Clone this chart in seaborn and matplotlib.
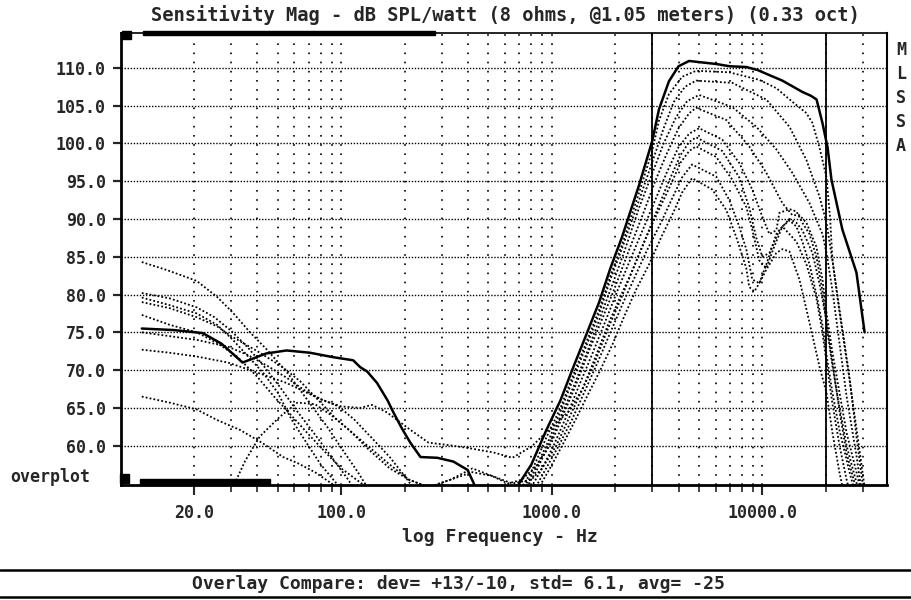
import numpy as np
import pandas as pd
import matplotlib
matplotlib.use("Agg")
import matplotlib.pyplot as plt
from matplotlib.patches import Rectangle
from matplotlib.lines import Line2D
from matplotlib.ticker import FixedLocator, NullFormatter
import seaborn as sns

# main (on-axis) response, solid
solid_f = [11.3, 16, 22, 27, 34, 44, 55, 71, 92, 114, 123, 133, 148, 166, 177, 195, 213, 238, 286, 341,
           398, 425, 460, 550, 650, 700, 800, 940, 1100, 1250, 1450, 1680, 1900, 2150, 2600, 3000, 3230,
           3600, 4000, 4490, 5200, 6040, 7000, 8400, 9500, 10450, 12450, 14000, 15500, 17000, 18100,
           19300, 20400, 21300, 24000, 28000, 30600]
solid_db = [75.5, 75.3, 74.9, 73.5, 71.0, 72.2, 72.6, 72.3, 71.7, 71.3, 70.4, 69.8, 68.3, 66.0, 64.4, 62.2,
            60.4, 58.5, 58.4, 57.9, 56.8, 55.1, 52.5, 50.5, 52.5, 55.0, 57.5, 62.0, 66.0, 70.0, 74.5, 79.0,
            83.5, 87.5, 94.5, 100.3, 104.5, 108.2, 110.2, 110.9, 110.7, 110.5, 110.2, 110.1, 109.7, 109.2,
            108.3, 107.5, 106.8, 106.3, 105.8, 102.7, 99.5, 95.2, 88.6, 82.9, 75.0]

# off-axis overlays, dotted
d1_f = [11.3, 15, 20.6, 25.7, 30.6, 36.9, 44.4, 55.3, 68.9, 85.8, 99, 120, 140, 180, 300, 500, 620,
        700, 800, 940, 1100, 1250, 1450, 1680, 1900, 2150, 2600, 3000, 3230, 3600, 4160, 4850,
        6970, 9680, 11660, 13890, 16200, 17300, 18670, 20180, 21000, 21540, 23270, 25960, 28060, 29950, 31500]
d1_db = [84.3, 83.2, 81.8, 79.7, 77.6, 75.0, 72.7, 69.7, 66.1, 62.5, 59.9, 56.5, 53.5, 50, 47, 48, 51,
         54, 56.5, 61, 65, 69, 73.5, 78, 82.5, 86.5, 93.5, 99, 103, 106.5, 108.8, 109.6,
         109.4, 108.4, 107.3, 105.5, 104.0, 102.7, 99.5, 95.5, 90, 84.5, 77.6, 68.7, 62.1, 56.4, 52]

d2_f = [11.3, 15.3, 20.6, 25, 30, 36, 43, 52, 62, 75, 90, 108, 130, 200, 400, 600,
        720, 820, 960, 1100, 1250, 1450, 1680, 1900, 2150, 2600, 3000, 3400, 3800, 4300, 4850,
        7200, 10450, 13450, 16200, 18670, 20180, 21540, 23270, 25960, 28060, 29950, 31500]
d2_db = [80.2, 79.5, 78.3, 77.0, 75.2, 73.0, 70.5, 67.5, 64.5, 61.5, 58.5, 55.5, 52, 48, 47, 50,
         54, 56.5, 60.5, 64.5, 68.5, 73, 77.5, 82, 86, 92.5, 97.5, 102, 105.5, 107.5, 108.3,
         108.0, 105.8, 102.2, 97.8, 93.0, 89.5, 84.5, 78, 69, 61, 55, 51]

d3_f = [11.3, 15.3, 20.6, 25.7, 30.6, 37, 43, 50, 58, 68, 80, 95, 115, 200, 400, 620,
        740, 840, 980, 1150, 1300, 1500, 1700, 1950, 2200, 2600, 3000, 3400, 3900, 4400, 5010,
        7200, 9360, 11660, 13890, 16750, 19300, 20180, 21540, 23270, 25140, 28060, 29950]
d3_db = [79.6, 78.6, 77.5, 76.0, 74.0, 71.5, 69.5, 67.0, 63.5, 60.5, 57.5, 55.0, 52, 48, 47, 50,
         54, 56.5, 60.5, 65, 68.5, 73, 77, 81.5, 85.5, 91.5, 96, 100, 103.5, 105.6, 106.4,
         104.8, 102.2, 99.2, 96.1, 92.1, 88.0, 85.5, 80.5, 73.5, 66.5, 58.5, 53]

d4_f = [11.3, 15.3, 20.6, 25.7, 30, 40, 52, 64, 78, 95, 115, 140, 170, 210, 260, 330, 420, 520, 620,
        720, 860, 1000, 1150, 1300, 1500, 1750, 2000, 2300, 2700, 3100, 3500, 4000, 4500, 4850,
        6740, 8670, 10450, 12450, 13890, 15000, 16200, 18070, 19300, 20180, 21540, 23270, 25140, 28060, 29950]
d4_db = [79.0, 78.2, 77.0, 75.8, 74.5, 72.5, 70.5, 68.5, 66.0, 63.5, 61.5, 59.5, 57.5, 55.5, 54.5, 55.5,
         57.0, 56.0, 55.0, 55.5, 57.5, 60.5, 64.5, 68, 72.5, 77, 81, 85.5, 90.5, 95, 98.5, 102, 104, 104.7,
         103.1, 99.6, 96.1, 92.1, 90.5, 90.5, 89.5, 86.3, 82.0, 77.6, 72.3, 67.0, 61.7, 56.4, 53]

d5_f = [11.3, 15.3, 20.6, 25.7, 32, 40, 48, 58, 70, 85, 100, 125, 150, 250, 450, 650,
        780, 900, 1020, 1200, 1350, 1550, 1800, 2050, 2350, 2700, 3100, 3500, 4000, 4500, 5010,
        6450, 7770, 8960, 10000, 10800, 11660, 12050, 13450, 14510, 15500, 16750, 18070, 19300,
        20180, 21540, 23270, 25140, 28060, 29950]
d5_db = [77.3, 76.0, 75.0, 73.6, 71.8, 69.1, 66.5, 64.0, 61.5, 59.0, 57.0, 55.0, 53, 49, 48, 51,
         54, 57, 60, 64.5, 68, 72, 76.5, 80.5, 84.5, 88.5, 92.5, 96, 99.5, 101.3, 102.0,
         100.5, 97.4, 93.9, 90.3, 88.0, 88.5, 90.8, 91.3, 91.0, 89.5, 88.0, 85.0, 80.5,
         76.0, 70.5, 65.0, 60.0, 55.0, 52]

d6_f = [11.3, 20.6, 29, 36, 45, 55, 68, 82, 100, 123, 140, 165, 213, 260, 320, 400, 530, 650, 803, 967,
        1200, 1400, 1600, 1850, 2100, 2400, 2800, 3200, 3600, 4100, 4500, 4850,
        6040, 7200, 8390, 8960, 9680, 10450, 11270, 12450, 13450, 14510, 15500, 16750, 18070, 19300,
        20180, 21540, 23270, 25960, 28060]
d6_db = [75.0, 74.0, 73.1, 72.0, 70.5, 69.0, 67.2, 66.0, 65.2, 65.0, 65.4, 64.4, 62.1, 60.4, 60.1, 59.7,
         59.1, 58.4, 59.9, 62.1,
         64.5, 67.5, 71.5, 76, 79.5, 83, 87.5, 91, 94, 97.5, 99, 99.6,
         98.2, 95.2, 91.6, 88.6, 84.5, 83.5, 86.0, 89.0, 89.8, 89.0, 87.0, 84.0, 80.0, 76.0,
         72.0, 67.0, 62.0, 56.5, 53]

d7_f = [11.3, 15.3, 20.6, 29, 37, 55, 75, 97, 115, 140, 170, 200, 240, 350, 600,
        820, 940, 1080, 1250, 1450, 1650, 1900, 2150, 2450, 2850, 3300, 3700, 4160, 4640,
        6040, 6970, 7770, 8390, 8960, 9680, 10450, 11660, 12450, 13450, 15000, 16750, 18670,
        20180, 21540, 23270, 25140]
d7_db = [72.7, 72.3, 71.8, 71.0, 70.0, 68.3, 66.5, 65.2, 63.5, 61, 58.5, 56, 53, 49, 50,
         54, 57, 60, 63.5, 67.5, 71, 75, 78.5, 82, 86, 89.5, 92.5, 95.5, 97.2,
         95.6, 92.5, 89.0, 86.0, 82.0, 81.5, 83.3, 85.5, 86.0, 85.7, 82.0, 76.3, 70.5,
         67.0, 61.7, 56.4, 52]

d8_f = [11.3, 15.3, 20.6, 25.7, 33, 42, 53, 62, 75, 90, 110, 200, 400, 650,
        850, 980, 1120, 1300, 1500, 1700, 1950, 2200, 2500, 2900, 3300, 3800, 4160, 4640,
        5780, 6740, 7520, 8390, 8670, 9160, 9680, 10450, 11660, 12450, 13450, 14510, 16200, 18070,
        19300, 20180, 21540, 23270, 25140, 27000]
d8_db = [66.5, 65.7, 64.8, 63.4, 62.1, 60.4, 58.5, 57.7, 56.5, 55.0, 53, 49, 47, 50,
         54, 57, 60, 63.5, 67, 70, 73.5, 77, 80.5, 84, 87.5, 91, 93.5, 95.4,
         93.9, 91.2, 87.6, 83.5, 81.0, 80.4, 81.5, 84.0, 88.0, 89.0, 88.0, 87.0, 84.0, 79.5,
         75.0, 71.0, 65.5, 60.0, 55.5, 52]

d9_f = [11.3, 20, 25, 30, 35, 41, 51, 62, 75, 90, 110, 135, 170, 210, 260, 330, 420, 520, 650, 800, 900, 1050,
        1200, 1400, 1600, 1850, 2100, 2400, 2800, 3200, 3600, 4100, 4500, 4850,
        6450, 7770, 8670, 9360, 10000, 10800, 12050, 13450, 14510, 15500, 17300, 18670, 20180,
        21540, 23270, 25140, 28060]
d9_db = [45, 47, 50, 54, 58.0, 61.2, 63.8, 65.7, 65.5, 64.0, 62.0, 59.5, 57.0, 55.5, 54.5, 55.5, 56.5, 56.0,
         55.0, 55.5, 57.0, 60.0,
         63.5, 67.5, 71, 75.5, 79, 83, 87.5, 91.5, 95, 98.5, 100.2, 100.8,
         99.0, 95.5, 91.5, 87.5, 85.0, 85.5, 88.5, 90.0, 89.5, 88.5, 85.5, 81.5, 76.5,
         71.0, 64.5, 59.0, 54.0]

y_ticks = [60, 65, 70, 75, 80, 85, 90, 95, 100, 105, 110]
x_major = [20, 100, 1000, 10000]
x_major_labels = ["20.0", "100.0", "1000.0", "10000.0"]
x_minor = [30, 40, 50, 60, 70, 80, 90, 200, 300, 400, 500, 600, 700, 800, 900,
           2000, 3000, 4000, 5000, 6000, 7000, 8000, 9000, 20000, 30000]
window_lines = [3000, 20000]

overlays = {"d1": (d1_f, d1_db), "d2": (d2_f, d2_db), "d3": (d3_f, d3_db),
            "d4": (d4_f, d4_db), "d5": (d5_f, d5_db), "d6": (d6_f, d6_db),
            "d7": (d7_f, d7_db), "d8": (d8_f, d8_db), "d9": (d9_f, d9_db)}

sns.set_style("white")
plt.rcParams['font.family'] = ['DejaVu Sans Mono', 'DejaVu Sans']

W, H = 912, 600
fig = plt.figure(figsize=(W / 100, H / 100), dpi=100)
ax_l, ax_r, ax_t, ax_b = 121, 887, 33, 485
ax = fig.add_axes([ax_l / W, 1 - ax_b / H, (ax_r - ax_l) / W, (ax_b - ax_t) / H])

ax.set_xscale('log')
ax.set_xlim(9.0, 39100)
ax.set_ylim(54.8, 114.6)

for name, (f, db) in overlays.items():
    sns.lineplot(x=f, y=db, ax=ax, color='black', lw=1.3, linestyle=(0, (1, 1.2)),
                 estimator=None, sort=False, zorder=3)
sns.lineplot(x=solid_f, y=solid_db, ax=ax, color='black', lw=1.8,
             estimator=None, sort=False, zorder=4)

for f in window_lines:
    ax.axvline(f, color='black', lw=1.3, zorder=2)

ax.xaxis.set_major_locator(FixedLocator(x_major))
ax.xaxis.set_minor_locator(FixedLocator(x_minor))
ax.set_xticklabels(x_major_labels)
ax.xaxis.set_minor_formatter(NullFormatter())
ax.set_yticks(y_ticks)
ax.set_yticklabels([f"{v:.1f}" for v in y_ticks])

ax.grid(axis='x', which='both', color='black', lw=1.2, linestyle=(0, (1, 4.5)))
ax.grid(axis='y', which='major', color='black', lw=1.0, linestyle=(0, (1, 1.2)))
ax.set_axisbelow(True)

ax.tick_params(axis='y', which='major', direction='out', length=6, width=1.6, pad=5,
               labelsize=12, left=True)
ax.tick_params(axis='x', which='major', direction='out', length=7.5, width=1.5, pad=6,
               labelsize=12, bottom=True)
ax.tick_params(axis='x', which='minor', direction='out', length=5, width=1.2, bottom=True)
for lab in ax.get_xticklabels() + ax.get_yticklabels():
    lab.set_fontweight('bold')

ax.spines['left'].set_linewidth(2.0)
ax.spines['bottom'].set_linewidth(2.0)
ax.spines['top'].set_linewidth(1.2)
ax.spines['right'].set_linewidth(1.5)
for s in ax.spines.values():
    s.set_color('black')
ax.set_xlabel('')
ax.set_ylabel('')

def px_rect(x0, y0, x1, y1):
    fig.add_artist(Rectangle((x0 / W, 1 - y1 / H), (x1 - x0) / W, (y1 - y0) / H,
                             transform=fig.transFigure, color='black', zorder=10))

# cursor / scroll markers
px_rect(122, 31, 131, 39)
px_rect(143, 31, 435, 35)
px_rect(120, 474, 129, 483)
px_rect(140, 479, 270, 485)

fig.text(505 / W, 1 - 15 / H, "Sensitivity Mag - dB SPL/watt (8 ohms, @1.05 meters) (0.33 oct)",
         ha='center', va='center', fontsize=13.5, fontweight='bold')
fig.text(500 / W, 1 - 537 / H, "log Frequency - Hz", ha='center', va='center',
         fontsize=13, fontweight='bold')
fig.text(10 / W, 1 - 477 / H, "overplot", ha='left', va='center', fontsize=12, fontweight='bold')
for i, ch in enumerate("MLSSA"):
    fig.text(901 / W, 1 - (50 + 24 * i) / H, ch, ha='center', va='center',
             fontsize=12, fontweight='bold')

fig.add_artist(Line2D([0, 1], [1 - 570 / H] * 2, color='black', lw=1.8, transform=fig.transFigure))
fig.add_artist(Line2D([0, 1], [1 - 597 / H] * 2, color='black', lw=1.8, transform=fig.transFigure))
fig.text(458 / W, 1 - 584 / H, "Overlay Compare: dev= +13/-10, std= 6.1, avg= -25",
         ha='center', va='center', fontsize=13, fontweight='bold')

fig.savefig("out.png", dpi=100, facecolor='white')
